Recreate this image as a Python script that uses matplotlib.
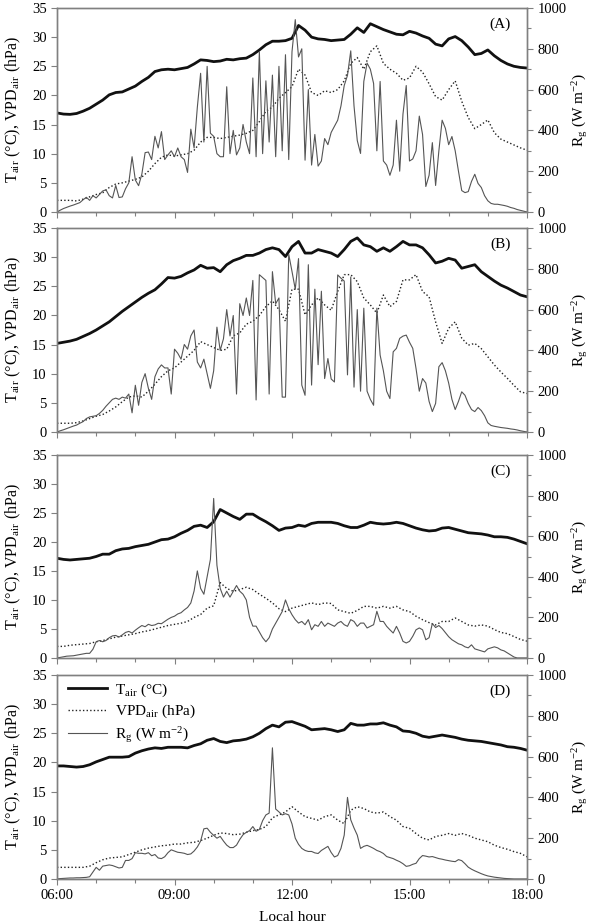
import matplotlib
matplotlib.use("Agg")

import matplotlib.pyplot as plt
import matplotlib.ticker as ticker
import numpy as np

plt.rcParams['font.family'] = ['Liberation Serif', 'DejaVu Serif']
plt.rcParams['mathtext.fontset'] = 'stix'

# ── data: 10-min Tair / VPD, 5-min Rg, 06:00 to 18:00 ──────────────
t10 = 6 + np.arange(73) / 6.0
t5 = 6 + np.arange(145) / 12.0

tair_a = [17.0, 16.8, 16.75, 16.9, 17.3, 17.8,
          18.5, 19.2, 20.1, 20.5, 20.6, 21.1,
          21.6, 22.4, 23.1, 24.1, 24.4, 24.5,
          24.4, 24.6, 24.8, 25.4, 26.1, 26.0,
          25.8, 25.9, 26.2, 26.1, 26.3, 26.4,
          27.0, 27.8, 28.7, 29.3, 29.3, 29.4,
          29.8, 32.0, 31.2, 30.0, 29.7, 29.6,
          29.4, 29.5, 29.6, 30.5, 31.6, 30.8,
          32.3, 31.8, 31.3, 30.9, 30.5, 30.4,
          31.0, 30.7, 30.2, 29.8, 28.8, 28.5,
          29.7, 30.1, 29.4, 28.3, 27.0, 27.2,
          27.8, 26.8, 26.0, 25.4, 25.0, 24.8,
          24.7]
vpd_a = [2.0, 2.0, 2.0, 1.9, 2.2, 2.6,
         3.0, 3.3, 4.2, 4.8, 5.0, 5.3,
         5.6, 6.0, 7.0, 8.3, 9.4, 9.8,
         9.6, 9.8, 10.0, 10.6, 12.0, 12.8,
         12.8, 12.6, 12.8, 13.0, 13.2, 13.5,
         14.0, 15.5, 17.3, 18.0, 19.5, 20.5,
         21.5, 24.5, 23.5, 20.5, 20.0, 20.8,
         20.5, 21.0, 22.5, 25.5, 26.5, 24.5,
         27.5, 28.5, 25.5, 24.5, 23.8, 22.6,
         23.0, 25.0, 24.0, 22.0, 19.8, 19.2,
         21.0, 22.5, 19.0, 16.2, 14.3, 15.0,
         15.8, 13.6, 12.5, 12.0, 11.5, 11.0,
         10.6]
rg_a = [0, 9, 17, 23, 29, 34, 40, 46, 60, 72, 57, 80,
        69, 86, 103, 109, 80, 69, 130, 71, 74, 114, 143, 271,
        157, 129, 186, 291, 294, 257, 371, 314, 394, 257, 280, 300,
        271, 314, 271, 257, 194, 406, 314, 514, 680, 343, 714, 386,
        371, 286, 271, 271, 614, 286, 400, 280, 314, 429, 343, 286,
        657, 271, 786, 286, 643, 343, 671, 271, 714, 300, 771, 257,
        786, 943, 760, 800, 254, 600, 230, 380, 225, 250, 360, 330,
        390, 420, 450, 520, 620, 670, 790, 520, 350, 287, 640, 730,
        700, 630, 300, 640, 250, 230, 180, 230, 450, 200, 480, 620,
        250, 260, 300, 470, 380, 125, 180, 340, 130, 300, 450, 410,
        330, 370, 300, 200, 105, 95, 100, 150, 185, 140, 120, 80,
        55, 42, 38, 38, 35, 32, 28, 22, 18, 12, 8, 4,
        0]

tair_b = [15.2, 15.4, 15.6, 15.9, 16.4, 16.9,
          17.5, 18.2, 18.9, 19.8, 20.7, 21.5,
          22.3, 23.1, 23.8, 24.4, 25.4, 26.5,
          26.4, 26.7, 27.3, 27.8, 28.6, 28.1,
          28.2, 27.5, 28.7, 29.4, 29.8, 30.3,
          30.3, 30.7, 31.3, 31.6, 31.3, 30.1,
          31.8, 32.7, 30.7, 30.7, 31.3, 31.0,
          30.7, 30.1, 31.3, 32.7, 33.3, 32.1,
          31.8, 31.0, 31.6, 31.0, 31.8, 32.7,
          32.1, 32.1, 31.6, 30.4, 29.0, 29.3,
          29.8, 29.5, 28.1, 28.4, 28.7, 27.5,
          26.7, 25.9, 25.2, 24.7, 24.1, 23.5,
          23.2]
vpd_b = [1.5, 1.5, 1.5, 1.6, 1.9, 2.3,
         2.7, 3.0, 3.6, 4.3, 5.2, 6.0,
         6.2, 6.0, 7.0, 8.2, 9.5, 10.5,
         11.0, 12.0, 13.0, 14.0, 15.5, 15.0,
         14.5, 14.0, 14.2, 16.5, 17.0, 18.5,
         19.0, 20.0, 21.5, 22.5, 21.0, 19.0,
         24.5, 24.5, 20.1, 21.8, 23.0, 21.8,
         20.9, 24.1, 27.0, 27.0, 25.8, 23.0,
         21.8, 20.4, 23.5, 21.5, 22.4, 26.1,
         26.1, 27.0, 24.1, 23.2, 18.9, 15.2,
         17.8, 18.9, 16.1, 14.9, 15.2, 14.3,
         12.9, 11.5, 10.3, 9.2, 8.0, 6.9,
         6.6]
rg_b = [0, 6, 11, 17, 23, 29, 34, 43, 51, 66, 74, 77,
        80, 91, 106, 126, 143, 160, 166, 160, 171, 166, 186, 94,
        229, 131, 243, 286, 214, 160, 271, 309, 329, 314, 314, 186,
        406, 386, 357, 429, 406, 471, 500, 343, 314, 357, 286, 214,
        300, 514, 400, 457, 600, 471, 571, 186, 629, 571, 657, 571,
        743, 157, 771, 757, 743, 186, 786, 629, 657, 171, 171, 871,
        787, 700, 850, 230, 180, 820, 230, 700, 330, 690, 262, 360,
        260, 245, 770, 754, 740, 280, 760, 220, 600, 200, 607, 200,
        160, 131, 607, 377, 300, 200, 164, 393, 410, 459, 470, 475,
        440, 410, 311, 200, 262, 240, 150, 100, 140, 320, 340, 300,
        240, 160, 110, 150, 197, 180, 140, 110, 100, 120, 105, 80,
        45, 32, 28, 25, 22, 20, 18, 15, 13, 10, 6, 3,
        0]

tair_c = [17.2, 17.0, 16.9, 17.0, 17.1, 17.2,
          17.5, 17.9, 17.9, 18.5, 18.8, 18.9,
          19.2, 19.4, 19.6, 20.0, 20.4, 20.5,
          20.9, 21.5, 22.0, 22.7, 22.9, 22.5,
          23.5, 25.6, 25.0, 24.4, 23.9, 24.8,
          24.8, 24.1, 23.5, 22.8, 22.0, 22.4,
          22.5, 22.9, 22.7, 23.2, 23.4, 23.4,
          23.4, 23.2, 22.8, 22.5, 22.5, 22.9,
          23.4, 23.2, 23.1, 23.2, 23.4, 23.2,
          22.8, 22.4, 22.1, 21.9, 22.0, 22.4,
          22.5, 22.2, 21.9, 21.6, 21.5, 21.4,
          21.2, 20.9, 20.9, 20.8, 20.5, 20.1,
          19.7]
vpd_c = [2.0, 2.0, 2.2, 2.3, 2.4, 2.5,
         2.8, 3.0, 3.3, 3.6, 3.8, 4.0,
         4.2, 4.5, 4.7, 5.0, 5.3, 5.6,
         5.8, 6.0, 6.3, 7.0, 7.5, 8.6,
         9.0, 13.0, 12.0, 11.5, 11.8, 12.2,
         11.8, 11.0, 10.3, 9.5, 8.5, 8.0,
         8.6, 8.9, 9.2, 9.5, 9.2, 9.5,
         9.4, 8.3, 8.0, 7.7, 8.2, 8.9,
         8.9, 8.6, 8.9, 8.6, 8.9, 8.3,
         8.0, 7.2, 6.6, 6.1, 5.7, 6.3,
         6.3, 6.9, 6.3, 5.7, 5.5, 5.7,
         5.5, 4.9, 4.4, 4.2, 3.7, 3.2,
         2.9]
rg_c = [0, 3, 6, 9, 10, 11, 14, 17, 20, 23, 23, 43,
        80, 86, 80, 86, 100, 109, 111, 103, 114, 126, 131, 123,
        137, 149, 160, 154, 166, 160, 163, 171, 169, 180, 191, 200,
        206, 217, 223, 237, 249, 271, 330, 429, 343, 314, 400, 486,
        786, 457, 343, 300, 329, 300, 329, 357, 329, 314, 286, 200,
        157, 157, 129, 100, 80, 100, 143, 171, 200, 229, 286, 243,
        213, 189, 172, 180, 164, 189, 139, 164, 156, 180, 156, 172,
        164, 156, 172, 180, 164, 156, 189, 180, 156, 172, 172, 148,
        156, 164, 230, 180, 180, 156, 139, 123, 156, 123, 82, 74,
        82, 107, 139, 148, 139, 90, 100, 170, 150, 160, 145, 125,
        105, 90, 80, 70, 65, 55, 50, 65, 45, 40, 35, 30,
        45, 50, 55, 50, 40, 35, 25, 15, 5, 0, 0, 0,
        0]

tair_d = [19.4, 19.4, 19.3, 19.2, 19.3, 19.6,
          20.1, 20.5, 20.9, 20.9, 20.9, 21.0,
          21.6, 22.0, 22.3, 22.5, 22.4, 22.6,
          22.6, 22.6, 22.5, 22.9, 23.2, 23.8,
          24.1, 23.6, 23.4, 23.7, 23.8, 24.0,
          24.4, 25.0, 25.8, 26.4, 26.1, 26.9,
          27.0, 26.6, 26.2, 25.6, 25.7, 25.8,
          25.6, 25.3, 25.6, 26.7, 26.4, 26.4,
          26.6, 26.6, 26.8, 26.4, 26.1, 25.4,
          25.3, 25.0, 24.5, 24.3, 24.5, 24.7,
          24.5, 24.3, 24.0, 23.8, 23.7, 23.6,
          23.4, 23.2, 23.0, 22.7, 22.6, 22.4,
          22.1]
vpd_d = [2.0, 2.0, 2.0, 2.0, 2.0, 2.2,
         2.8, 3.3, 3.6, 3.7, 3.8, 4.2,
         4.6, 5.0, 5.3, 5.5, 5.7, 5.8,
         6.0, 6.0, 6.2, 6.3, 6.6, 7.0,
         7.5, 7.9, 7.8, 7.6, 7.7, 8.0,
         8.3, 8.5, 9.0, 10.5, 11.0, 11.5,
         12.4, 11.5, 10.7, 10.4, 10.1, 10.7,
         11.0, 10.1, 9.5, 11.8, 12.4, 12.1,
         11.5, 11.3, 11.5, 10.7, 10.1, 9.0,
         8.7, 7.8, 7.0, 6.7, 7.3, 7.5,
         7.8, 7.5, 7.8, 7.5, 7.0, 6.7,
         6.4, 5.8, 5.4, 5.1, 4.7, 4.4,
         3.8]
rg_d = [0, 2, 3, 4, 5, 5, 6, 6, 7, 8, 11, 34,
        57, 43, 63, 66, 69, 66, 60, 54, 57, 91, 91, 100,
        129, 126, 126, 123, 129, 114, 120, 103, 100, 109, 129, 143,
        137, 131, 129, 126, 120, 123, 137, 157, 186, 246, 249, 229,
        214, 200, 209, 186, 166, 154, 154, 166, 194, 217, 229, 237,
        257, 234, 243, 286, 314, 323, 643, 343, 329, 314, 320, 314,
        270, 200, 170, 150, 140, 135, 135, 128, 125, 140, 150, 160,
        130, 108, 115, 150, 215, 400, 290, 250, 215, 150, 160, 165,
        158, 150, 140, 134, 125, 110, 105, 100, 92, 85, 75, 62,
        65, 72, 77, 100, 115, 112, 108, 110, 105, 100, 97, 93,
        90, 87, 85, 95, 90, 75, 58, 48, 40, 33, 26, 20,
        15, 12, 9, 7, 5, 3, 2, 1, 0, 0, 0, 0,
        0]

panels = [("(A)", tair_a, vpd_a, rg_a),
          ("(B)", tair_b, vpd_b, rg_b),
          ("(C)", tair_c, vpd_c, rg_c),
          ("(D)", tair_d, vpd_d, rg_d)]

hour_ticks = [6, 9, 12, 15, 18]
hour_labels = ["06:00", "09:00", "12:00", "15:00", "18:00"]

# ── layout (pixel boxes from the reference) ────────────────────────
W, H = 591, 923
boxes = [(8, 212), (228, 432), (455, 658), (675, 879)]
x0, x1 = 57, 527

spine_col = "#808080"
fig = plt.figure(figsize=(W / 100, H / 100), dpi=100)

for i, (tag, tair, vpd, rg) in enumerate(panels):
    top, bot = boxes[i]
    ax = fig.add_axes([x0 / W, 1 - bot / H, (x1 - x0) / W, (bot - top) / H])
    ax2 = ax.twinx()

    l1, = ax.plot(t10, tair, color="#111111", lw=2.0, label=r"T$_\mathregular{air}$ (°C)")
    l2, = ax.plot(t10, vpd, color="#222222", lw=1.0, linestyle=(0, (1, 1.6)),
                  label=r"VPD$_\mathregular{air}$ (hPa)")
    l3, = ax2.plot(t5, rg, color="#555555", lw=0.8,
                   label=r"R$_\mathregular{g}$ (W m$^\mathregular{-2}$)")

    ax.set_xlim(6, 18)
    ax.set_ylim(0, 35)
    ax2.set_ylim(0, 1000)
    ax.set_yticks(np.arange(0, 36, 5))
    ax2.set_yticks(np.arange(0, 1001, 200))
    ax2.yaxis.set_minor_locator(ticker.MultipleLocator(100))
    ax.set_xticks(hour_ticks)
    ax.xaxis.set_minor_locator(ticker.MultipleLocator(1))
    if i == 3:
        ax.set_xticklabels(hour_labels)
        ax.set_xlabel("Local hour", fontsize=11, labelpad=6)
    else:
        ax.set_xticklabels([])

    for a in (ax, ax2):
        for s in a.spines.values():
            s.set_color(spine_col)
            s.set_linewidth(1.0)
        a.tick_params(which="both", direction="out", color=spine_col,
                      labelsize=10.5, width=0.8)
        a.tick_params(which="major", length=4)
        a.tick_params(which="minor", length=3)

    ax.set_ylabel(r"T$_\mathregular{air}$ (°C), VPD$_\mathregular{air}$ (hPa)",
                  fontsize=11.5, labelpad=6)
    ax2.set_ylabel(r"R$_\mathregular{g}$ (W m$^\mathregular{-2}$)",
                   fontsize=11, labelpad=2)
    ax2.text(0.965, 0.955, tag, transform=ax2.transAxes, ha="right", va="top",
             fontsize=11)

    if i == 3:
        leg = ax2.legend(handles=[l1, l2, l3], loc="upper left",
                         bbox_to_anchor=(0.0, 1.02), frameon=False,
                         fontsize=11, handlelength=2.6, handletextpad=0.5,
                         labelspacing=0.25, borderaxespad=0.3)

fig.savefig("out.png", dpi=100)
